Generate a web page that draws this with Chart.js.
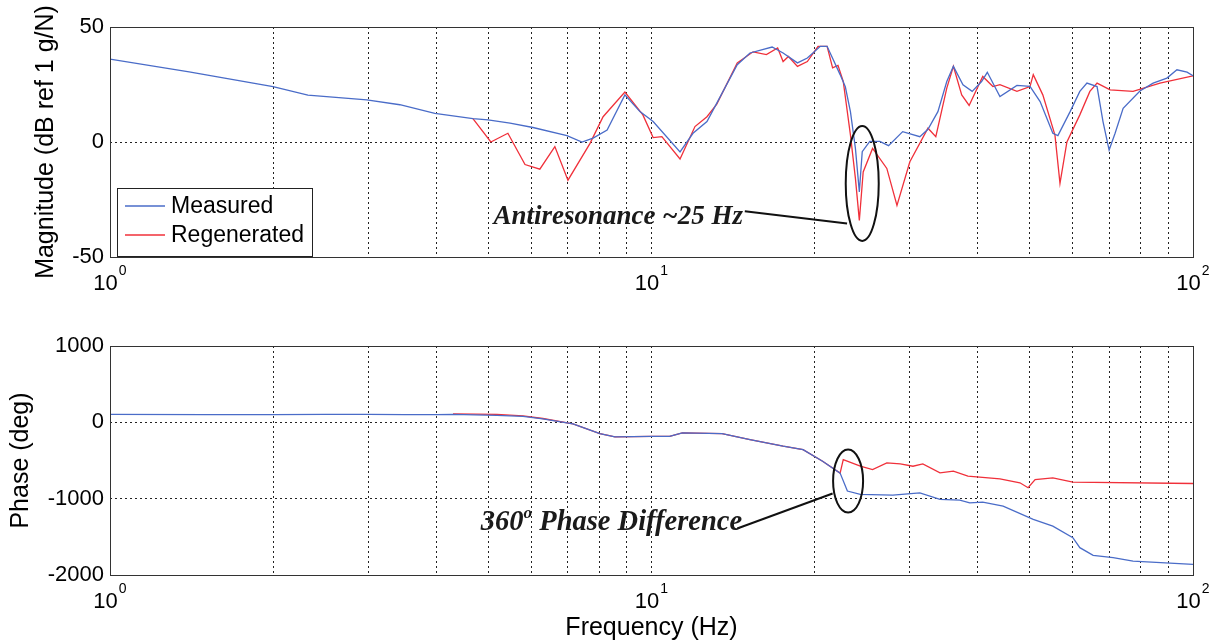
<!DOCTYPE html>
<html>
<head>
<meta charset="utf-8">
<script src="https://cdn.jsdelivr.net/npm/chart.js@4.4.1/dist/chart.umd.min.js"></script>
<style>
  html, body { margin: 0; padding: 0; background: #fff; }
  #wrap { position: relative; width: 1222px; height: 644px; background: #fff; }
  #magChart { position: absolute; left: 0; top: 0; }
  #phaseChart { position: absolute; left: 0; top: 320px; }
</style>
</head>
<body>
<div id="wrap">
  <canvas id="magChart" width="1222" height="300"></canvas>
  <canvas id="phaseChart" width="1222" height="324"></canvas>
</div>
<script>
// magnitude, dB ref 1 g/N
const magFreqMeasured = [1, 1.4, 2, 2.32, 2.98, 3.43, 3.98, 4.68, 4.99, 5.48, 6.04, 6.98, 7.44, 7.8, 8.28, 8.93, 9.52, 10.07, 11.29, 11.93, 12.66, 13.2, 14.4, 15.2, 16.7, 17.5, 18.6, 19.4, 20.5, 21.1, 22.3, 22.8, 23.3, 23.8, 24.2, 24.5, 25.3, 26.4, 27.4, 29.1, 31.3, 32.4, 33.8, 35.1, 36.1, 37.6, 39.1, 40.7, 41.7, 44, 47.3, 50, 52.2, 55.1, 56.3, 59.3, 61.8, 63.7, 66.5, 68.2, 70, 71.8, 74.3, 79.8, 84.4, 89.5, 93.4, 97.5, 100];
const magMeasured = [36, 30.5, 24.1, 20.4, 18.3, 16.2, 12.4, 10.2, 9.6, 8.2, 6.3, 2.8, 0, 1.7, 5.2, 20.5, 13.2, 8.9, -4.3, 3.8, 8.9, 16.9, 33.6, 38.7, 41.3, 38.7, 34.4, 36.5, 41.6, 41.6, 29.3, 24, 13.2, -2.8, -21.7, -4.2, 0.3, 0.3, -1.6, 4.5, 2.3, 5.5, 13.2, 26.3, 32.9, 24.9, 22, 26.3, 30.3, 19.8, 24.6, 24.2, 17.6, 3.8, 2.8, 13.2, 22, 25.6, 24.1, 8.9, -3.5, 3.8, 14.6, 22.2, 25.6, 27.8, 31.4, 30.4, 28.8];

const magFreqRegen = [4.68, 5.05, 5.43, 5.84, 6.22, 6.63, 7.01, 7.7, 8.14, 8.93, 9.64, 10.07, 10.45, 11.29, 12.03, 12.66, 13.2, 14.4, 15.4, 16.3, 17.1, 17.5, 17.9, 18.6, 19.4, 20.3, 21.1, 21.6, 22.1, 22.6, 23.3, 23.8, 24.2, 24.6, 25.6, 27.2, 28.4, 30, 32.4, 33.5, 35.1, 36.1, 37.4, 38.6, 40.9, 42.7, 44, 47.3, 50, 50.7, 52.8, 55.6, 56.8, 58.5, 61.8, 64.5, 66.5, 70.3, 77.5, 86.9, 100];
const magRegen = [10.2, 0, 3.8, -9.8, -11.8, -2, -16.6, -0.6, 11, 21.7, 11.8, 1.9, 2.3, -7.4, 6.7, 11, 16.5, 34.4, 39.2, 38, 40.9, 35, 37.2, 32.9, 35, 41.6, 41.6, 32.2, 33.3, 26.3, 3.1, -15.8, -34.1, -13, -2.8, -11.5, -27.6, -8.6, 6, 2.3, 23.4, 32.9, 20.5, 15.9, 28.5, 24.1, 24.9, 22, 24.1, 29.3, 20.5, 3, -18, 0, 11.8, 22, 25.6, 22.7, 22, 25.6, 28.8];

// phase, deg
const phaseFreqMeasured = [1, 1.5, 2, 2.5, 3, 3.5, 4, 4.3, 5.18, 5.79, 6.3, 7.16, 8.03, 8.56, 10, 10.8, 11.4, 13.5, 15.2, 17.5, 19.05, 20.7, 22.3, 23, 24.3, 27.9, 31.3, 34.1, 37.1, 38.7, 40.9, 44.6, 50.7, 55.1, 60, 61.8, 65.4, 71.2, 77.5, 100];
const phaseMeasured = [105, 100, 100, 104, 104, 100, 100, 103, 92, 79, 44, -21, -148, -191, -183, -183, -139, -148, -226, -313, -357, -510, -665, -900, -945, -954, -923, -1010, -1019, -1054, -1046, -1098, -1272, -1359, -1511, -1642, -1742, -1773, -1817, -1860];

const phaseFreqRegen = [4.3, 5.18, 5.79, 6.3, 7.16, 8.03, 8.56, 10, 10.8, 11.4, 13.5, 15.2, 17.5, 19.05, 20.7, 22.3, 22.6, 24.3, 25.6, 27.2, 28.8, 30.4, 31.7, 34.1, 36.1, 38.4, 44, 47.9, 49.6, 51.1, 55.1, 60, 100];
const phaseRegen = [110, 105, 85, 50, -21, -148, -191, -183, -183, -139, -148, -226, -313, -357, -510, -665, -488, -575, -618, -531, -544, -575, -544, -662, -640, -706, -740, -792, -857, -749, -727, -784, -801];

const seriesNames = ['Measured', 'Regenerated'];
const freqTicks = [1, 2, 3, 4, 5, 6, 7, 8, 9, 10, 20, 30, 40, 50, 60, 70, 80, 90, 100];
const decadeTicks = [1, 10, 100];
const magTicks = [-50, 0, 50];
const phaseTicks = [-2000, -1000, 0, 1000];

const BLUE = '#4a6cc8';
const RED = '#f0303a';
const SANS = '"Liberation Sans", Arial, sans-serif';
const SERIF = '"Liberation Serif", "Times New Roman", serif';

function pts(xs, ys) {
  return xs.map((x, i) => ({ x: x, y: ys[i] }));
}

function line(label, color, data) {
  return {
    label: label,
    data: data,
    borderColor: color,
    backgroundColor: color,
    borderWidth: 1.3,
    pointRadius: 0,
    tension: 0,
    fill: false
  };
}

// box, decade labels, axis titles, legend and callouts
const bodeExtras = {
  id: 'bodeExtras',
  afterDraw(chart, args, opts) {
    const ctx = chart.ctx;
    const a = chart.chartArea;
    const xs = chart.scales.x;
    const ys = chart.scales.y;
    ctx.save();

    // frame
    ctx.strokeStyle = '#333';
    ctx.lineWidth = 1;
    ctx.setLineDash([]);
    ctx.strokeRect(Math.round(a.left) + 0.5, Math.round(a.top) + 0.5,
      Math.round(a.right - a.left), Math.round(a.bottom - a.top));

    // 10^n labels
    ctx.fillStyle = '#000';
    ctx.textBaseline = 'alphabetic';
    decadeTicks.forEach(v => {
      const px = xs.getPixelForValue(v);
      const exp = String(Math.round(Math.log10(v)));
      ctx.font = '22px ' + SANS;
      const wBase = ctx.measureText('10').width;
      ctx.font = '14px ' + SANS;
      const wExp = ctx.measureText(exp).width;
      const x0 = px - (wBase + wExp + 1) / 2;
      ctx.font = '22px ' + SANS;
      ctx.textAlign = 'left';
      ctx.fillText('10', x0, a.bottom + 33);
      ctx.font = '14px ' + SANS;
      ctx.fillText(exp, x0 + wBase + 1, a.bottom + 18);
    });

    // axis titles
    ctx.font = '25px ' + SANS;
    ctx.textAlign = 'center';
    ctx.textBaseline = 'middle';
    ctx.save();
    ctx.translate(opts.yTitleX, (a.top + a.bottom) / 2);
    ctx.rotate(-Math.PI / 2);
    ctx.fillText(opts.yTitle, 0, 0);
    ctx.restore();

    if (opts.xTitle) {
      ctx.fillText(opts.xTitle, (a.left + a.right) / 2, a.bottom + 53);
    }

    // legend
    if (opts.legend) {
      const lx = a.left + 7, ly = a.bottom - 69, lw = 195, lh = 68;
      ctx.fillStyle = '#fff';
      ctx.fillRect(lx, ly, lw, lh);
      ctx.strokeStyle = '#222';
      ctx.lineWidth = 1;
      ctx.strokeRect(lx + 0.5, ly + 0.5, lw, lh);
      chart.data.datasets.forEach((ds, i) => {
        const yy = ly + 18 + i * 29;
        ctx.strokeStyle = ds.borderColor;
        ctx.lineWidth = 1.3;
        ctx.beginPath();
        ctx.moveTo(lx + 8, yy);
        ctx.lineTo(lx + 48, yy);
        ctx.stroke();
        ctx.fillStyle = '#000';
        ctx.textAlign = 'left';
        ctx.textBaseline = 'middle';
        ctx.font = '23px ' + SANS;
        ctx.fillText(ds.label, lx + 54, yy + 1);
      });
    }

    // callout: ellipse, leader and note
    const n = opts.note;
    if (n) {
      const cx = xs.getPixelForValue(n.ellipse[0]);
      const cy = ys.getPixelForValue(n.ellipse[1]);
      ctx.strokeStyle = '#111';
      ctx.lineWidth = 2;
      ctx.beginPath();
      ctx.ellipse(cx, cy, n.rx, n.ry, 0, 0, Math.PI * 2);
      ctx.stroke();
      ctx.beginPath();
      ctx.moveTo(xs.getPixelForValue(n.from[0]), ys.getPixelForValue(n.from[1]));
      ctx.lineTo(xs.getPixelForValue(n.to[0]), ys.getPixelForValue(n.to[1]));
      ctx.stroke();

      const tx = xs.getPixelForValue(n.textAt[0]);
      const ty = ys.getPixelForValue(n.textAt[1]);
      ctx.fillStyle = '#1a1a1a';
      ctx.textBaseline = 'alphabetic';
      ctx.textAlign = 'left';
      const big = 'bold italic ' + n.size + 'px ' + SERIF;
      const small = 'bold italic ' + Math.round(n.size * 0.6) + 'px ' + SERIF;
      let w = 0;
      n.parts.forEach(p => { ctx.font = p.sup ? small : big; w += ctx.measureText(p.t).width; });
      let x = tx - w;
      n.parts.forEach(p => {
        ctx.font = p.sup ? small : big;
        ctx.fillText(p.t, x, p.sup ? ty - n.size * 0.42 : ty);
        x += ctx.measureText(p.t).width;
      });
    }
    ctx.restore();
  }
};

function fixWidth(w) { return scale => { scale.width = w; }; }
function fixHeight(h) { return scale => { scale.height = h; }; }
function setTicks(values) { return scale => { scale.ticks = values.map(v => ({ value: v })); }; }

function bodeOptions(yMin, yMax, yTicks, xHeight, padTop, extras) {
  return {
    responsive: false,
    animation: false,
    layout: { padding: { top: padTop, right: 29, left: 0, bottom: 0 } },
    plugins: {
      legend: { display: false },
      tooltip: { enabled: false },
      bodeExtras: extras
    },
    scales: {
      x: {
        type: 'logarithmic',
        min: 1,
        max: 100,
        afterBuildTicks: setTicks(freqTicks),
        afterFit: fixHeight(xHeight),
        ticks: { display: false, autoSkip: false },
        grid: { color: '#222', lineWidth: 1, drawTicks: false },
        border: { display: false, dash: [2, 3] }
      },
      y: {
        min: yMin,
        max: yMax,
        afterBuildTicks: setTicks(yTicks),
        afterFit: fixWidth(110),
        ticks: {
          color: '#000',
          padding: 6,
          font: { family: SANS, size: 22 },
          callback: v => String(v)
        },
        grid: { color: '#222', lineWidth: 1, drawTicks: false },
        border: { display: false, dash: [2, 3] }
      }
    }
  };
}

new Chart(document.getElementById('magChart'), {
  type: 'line',
  data: {
    datasets: [
      line(seriesNames[0], BLUE, pts(magFreqMeasured, magMeasured)),
      line(seriesNames[1], RED, pts(magFreqRegen, magRegen))
    ]
  },
  options: bodeOptions(-50, 50, magTicks, 43, 27, {
    yTitle: 'Magnitude (dB ref 1 g/N)',
    yTitleX: 46,
    legend: true,
    note: {
      ellipse: [24.5, -18], rx: 16.5, ry: 57.5,
      from: [14.87, -30.1], to: [22.97, -35.4],
      textAt: [14.75, -35.5], size: 27,
      parts: [{ t: 'Antiresonance ~25 Hz' }]
    }
  }),
  plugins: [bodeExtras]
});

new Chart(document.getElementById('phaseChart'), {
  type: 'line',
  data: {
    datasets: [
      line(seriesNames[0], BLUE, pts(phaseFreqMeasured, phaseMeasured)),
      line(seriesNames[1], RED, pts(phaseFreqRegen, phaseRegen))
    ]
  },
  options: bodeOptions(-2000, 1000, phaseTicks, 69, 26, {
    yTitle: 'Phase (deg)',
    yTitleX: 21,
    xTitle: 'Frequency (Hz)',
    legend: false,
    note: {
      ellipse: [23.07, -769], rx: 15, ry: 31.5,
      from: [14.4, -1390], to: [21.6, -932],
      textAt: [14.7, -1410], size: 28.5,
      parts: [{ t: '360' }, { t: 'o', sup: true }, { t: ' Phase Difference' }]
    }
  }),
  plugins: [bodeExtras]
});
</script>
</body>
</html>
